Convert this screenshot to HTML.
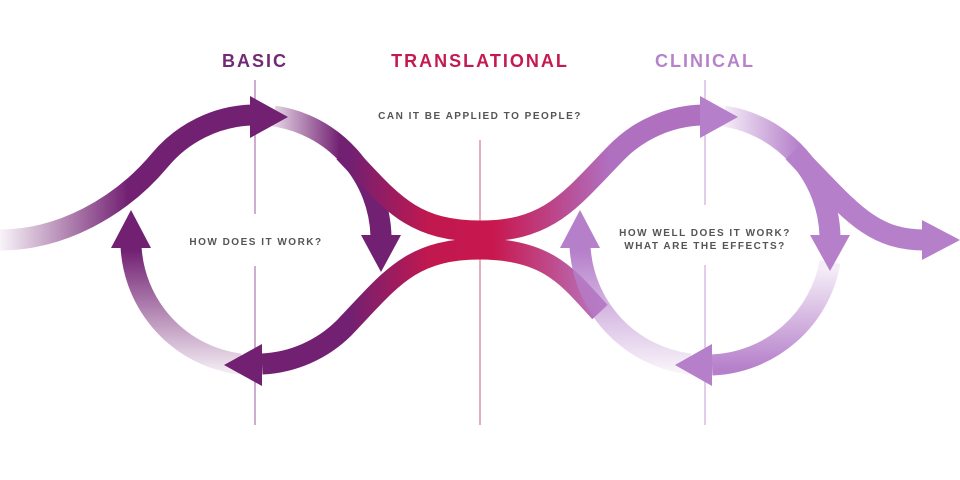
<!DOCTYPE html>
<html><head><meta charset="utf-8"><style>
html,body{margin:0;padding:0;background:#fff;}
svg{display:block;}
text{font-family:"Liberation Sans",sans-serif;font-weight:bold;}
</style></head><body>
<svg width="960" height="480" viewBox="0 0 960 480" xmlns="http://www.w3.org/2000/svg">
<defs>
<linearGradient id="g1" gradientUnits="userSpaceOnUse" x1="0" y1="0" x2="160" y2="0"><stop offset="0" stop-color="#722072" stop-opacity="0.05"/><stop offset="0.8" stop-color="#722072"/></linearGradient>
<linearGradient id="g2" gradientUnits="userSpaceOnUse" x1="275" y1="0" x2="340" y2="0"><stop offset="0" stop-color="#722072" stop-opacity="0.2"/><stop offset="1" stop-color="#722072"/></linearGradient>
<linearGradient id="g3" gradientUnits="userSpaceOnUse" x1="350" y1="0" x2="610" y2="0"><stop offset="0" stop-color="#722072"/><stop offset="0.3" stop-color="#c0184f"/><stop offset="0.55" stop-color="#c8174e"/><stop offset="1" stop-color="#b070c0"/></linearGradient>
<linearGradient id="g4" gradientUnits="userSpaceOnUse" x1="0" y1="370" x2="0" y2="250"><stop offset="0" stop-color="#722072" stop-opacity="0.1"/><stop offset="1" stop-color="#722072"/></linearGradient>
<linearGradient id="g5" gradientUnits="userSpaceOnUse" x1="350" y1="0" x2="610" y2="0"><stop offset="0" stop-color="#722072"/><stop offset="0.3" stop-color="#c0184f"/><stop offset="0.55" stop-color="#c8174e"/><stop offset="1" stop-color="#b57fca"/></linearGradient>
<linearGradient id="g6" gradientUnits="userSpaceOnUse" x1="725" y1="0" x2="800" y2="0"><stop offset="0" stop-color="#b57fca" stop-opacity="0.15"/><stop offset="1" stop-color="#b57fca"/></linearGradient>
<linearGradient id="g7" gradientUnits="userSpaceOnUse" x1="0" y1="270" x2="0" y2="370"><stop offset="0" stop-color="#b57fca" stop-opacity="0.15"/><stop offset="1" stop-color="#b57fca"/></linearGradient>
<linearGradient id="g8" gradientUnits="userSpaceOnUse" x1="0" y1="370" x2="0" y2="250"><stop offset="0" stop-color="#b57fca" stop-opacity="0.1"/><stop offset="1" stop-color="#b57fca"/></linearGradient>
</defs>

<g stroke-width="1.2">
<line x1="255" y1="80" x2="255" y2="425" stroke="#8a3d8a" stroke-opacity="0.7"/>
<line x1="480" y1="140" x2="480" y2="425" stroke="#c0406a" stroke-opacity="0.7"/>
<line x1="705" y1="80" x2="705" y2="425" stroke="#c49ad6" stroke-opacity="0.8"/>
</g>
<rect x="175" y="214" width="165" height="52" fill="#fff"/>
<rect x="600" y="205" width="210" height="60" fill="#fff"/>
<rect x="380" y="95" width="200" height="40" fill="#fff"/>

<g fill="none" stroke-width="21">
<path d="M0,240 C60,240 120,208 160,160 A125,125 0 0 1 252,115" stroke="url(#g1)"/>
<path d="M274,116 A125,125 0 0 1 381,236" stroke="url(#g2)"/>
<path d="M240,364 A125,125 0 0 1 131,246" stroke="url(#g4)"/>
<path d="M262,364 A125,125 0 0 0 344,328 C390,280 410,249 480,249 C550,249 570,280 600,312" stroke="url(#g5)"/>
<path d="M344,152 C390,200 410,231 480,231 C550,231 570,200 617,152 A125,125 0 0 1 702,115" stroke="url(#g3)"/>
<path d="M724,116 A125,125 0 0 1 830,236" stroke="url(#g6)"/>
<path d="M793,152 C850,210 870,240 925,240" stroke="url(#g6)"/>
<path d="M830,262 A125,125 0 0 1 712,365" stroke="url(#g7)"/>
<path d="M690,364 A125,125 0 0 1 580,246" stroke="url(#g8)"/>
</g>

<polygon points="250,96 288,117 250,138" fill="#722072"/>
<polygon points="361,235 401,235 381,272" fill="#722072"/>
<polygon points="262,344 224,365 262,386" fill="#722072"/>
<polygon points="111,248 151,248 131,210" fill="#722072"/>
<polygon points="700,96 738,117 700,138" fill="#b57fca"/>
<polygon points="810,235 850,235 830,271" fill="#b57fca"/>
<polygon points="712,344 675,365 712,386" fill="#b57fca"/>
<polygon points="560,248 600,248 580,210" fill="#b57fca"/>
<polygon points="922,220 960,240 922,260" fill="#b57fca"/>

<text x="255" y="67" text-anchor="middle" font-size="18" letter-spacing="2" fill="#722a74">BASIC</text>
<text x="480" y="67" text-anchor="middle" font-size="18" letter-spacing="2" fill="#c41a50">TRANSLATIONAL</text>
<text x="705" y="67" text-anchor="middle" font-size="18" letter-spacing="2" fill="#b683c9">CLINICAL</text>
<g font-size="10" letter-spacing="1.5" fill="#555" text-anchor="middle">
<text x="480" y="119">CAN IT BE APPLIED TO PEOPLE?</text>
<text x="256" y="245">HOW DOES IT WORK?</text>
<text x="705" y="236">HOW WELL DOES IT WORK?</text>
<text x="705" y="249">WHAT ARE THE EFFECTS?</text>
</g>
</svg>
</body></html>
